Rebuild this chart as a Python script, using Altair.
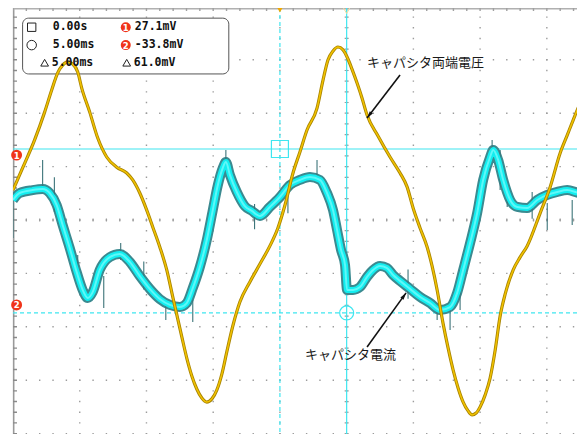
import altair as alt
import pandas as pd

# ---- data: time in ms (5 ms/div), level in mV (20 mV/div) ----
volt_t = [-20.0, -19.35, -18.38, -17.63, -17.1, -16.65, -16.28, -15.9, -15.53, -15.15, -14.85,
          -14.25, -13.65, -12.98, -12.23, -11.48, -11.03, -10.5, -9.98, -9.53, -9.0, -8.48,
          -8.03, -7.35, -6.98, -6.6, -6.23, -5.85, -5.48, -5.1, -4.73, -4.35, -3.98, -3.53,
          -3.0, -2.25, -1.5, -0.75, -0.15, 0.38, 0.98, 1.5, 2.03, 2.78, 3.23, 3.6, 3.98, 4.35,
          4.73, 5.1, 5.4, 5.78, 6.15, 6.53, 7.35, 8.25, 9.0, 9.53, 9.98, 10.5, 11.03, 11.4,
          11.78, 12.23, 12.6, 12.98, 13.35, 13.73, 14.1, 14.4, 14.7, 15.0, 15.38, 15.75, 16.13,
          16.5, 16.88, 17.48, 18.0, 18.53, 19.5, 20.25, 21.0, 21.53, 21.98, 22.5, 22.88]
volt_v = [11.2, 18.7, 30.0, 40.4, 48.7, 55.1, 58.0, 59.2, 58.4, 55.4, 49.4,
          40.4, 30.7, 23.6, 19.8, 17.6, 15.0, 10.1, 3.7, -2.6, -10.1, -18.7,
          -28.8, -43.8, -51.7, -58.4, -63.3, -66.7, -68.2, -67.0, -63.7, -57.7, -49.4, -39.7,
          -30.7, -23.2, -16.5, -9.7, -3.0, 5.6, 17.6, 25.5, 33.7, 41.9, 52.4, 59.9, 63.3, 64.8,
          63.7, 60.3, 56.5, 51.3, 45.7, 39.3, 31.5, 23.6, 17.6, 12.4, 4.5, -3.0, -10.1, -17.2,
          -26.2, -38.9, -47.9, -56.2, -62.9, -68.2, -71.5, -73.0, -72.3, -70.0, -65.5, -59.2, -48.7,
          -36.0, -27.7, -18.7, -13.9, -9.7, 2.6, 12.4, 25.1, 31.8, 37.5, 43.8, 47.6]

curr_t = [-20.0, -19.5, -18.53, -17.78, -17.25, -16.73, -16.28, -15.75, -15.23, -14.78, -14.4,
          -14.03, -13.5, -12.75, -12.0, -11.25, -10.5, -9.75, -9.0, -8.25, -7.5, -6.98, -6.53,
          -6.0, -5.48, -5.03, -4.65, -4.28, -4.05, -3.75, -3.23, -2.63, -2.1, -1.5, -0.75, 0.0,
          0.75, 1.5, 2.25, 3.0, 3.53, 3.98, 4.28, 4.58, 4.88, 5.03, 5.48, 6.0, 6.53, 6.98, 7.5,
          8.03, 8.48, 9.0, 9.75, 10.5, 11.25, 12.0, 12.75, 13.28, 13.73, 14.25, 14.78, 15.23,
          15.75, 15.98, 16.35, 16.73, 17.25, 17.78, 18.53, 19.28, 20.03, 20.78, 21.53, 22.5, 22.88]
curr_v = [7.5, 10.1, 11.2, 11.6, 10.1, 5.6, -1.9, -10.5, -19.5, -26.2, -29.2,
          -27.0, -18.7, -13.9, -12.7, -15.7, -21.0, -25.8, -29.6, -31.8, -32.6, -31.1, -25.5,
          -17.6, -7.5, 3.7, 13.1, 19.5, 21.7, 16.9, 10.5, 5.2, 3.4, 1.5, 4.9, 8.6,
          13.1, 15.0, 16.1, 15.0, 10.1, 3.7, -3.7, -11.2, -16.9, -26.2, -26.2, -25.1, -21.3, -18.7, -17.2,
          -18.0, -20.6, -22.8, -25.8, -28.8, -31.1, -33.7, -32.6, -27.3, -18.7, -8.6, 2.6, 15.0,
          23.6, 26.2, 22.5, 15.0, 7.5, 4.9, 4.5, 7.5, 9.4, 10.5, 11.2, 10.1, 11.2]

# noise spikes on the current trace
spike_t = [-20.0, -17.78, -15.15, -11.93, -8.55, -6.53, -4.05, 2.78, 11.78, 12.75, 13.5,
           15.9, 16.5, 17.03, 20.03, 21.9, -16.9, -13.2, -10.2, -1.9, 0.6, 9.6, 18.9]
spike_lo = [-6.7, 11.2, -20.6, -15.0, -37.5, -38.2, 20.6, 15.7, -37.5, -41.2, -33.7,
            22.5, 11.2, 4.9, -3.7, -1.9, 3.0, -33.0, -26.0, -3.5, 2.5, -29.5, 0.5]
spike_hi = [7.5, 22.5, -13.1, -8.6, -30.0, -30.0, 26.2, 22.5, -31.8, -33.7, -18.7,
            30.0, 26.2, 13.1, 6.4, 7.5, 16.0, -21.0, -15.5, 6.0, 14.5, -18.5, 10.5]

# screen / grid
X_DOMAIN = [-20.0, 22.26]
Y_DOMAIN = [-80.15, 79.40]
grid_t = [-15, -10, -5, 0, 5, 10, 15, 20]
grid_v = [-80, -60, -40, -20, 0, 20, 40, 60]

# cursors
cursor_solid_t = [5.0]
cursor_dash_t = [0.0]
cursor_solid_v = [26.6]
cursor_dash_v = [-34.8]

# readout
readout_text = ["0.00s", "5.00ms", "5.00ms", "27.1mV", "-33.8mV", "61.0mV"]
readout_t = [-17.02, -17.02, -17.1, -10.87, -10.87, -10.95]
readout_v = [72.2, 65.5, 58.7, 72.2, 65.5, 58.7]

# annotations
ann_text = ["キャパシタ両端電圧", "キャパシタ電流"]
ann_t = [6.53, 1.88]
ann_v = [58.8, -50.6]
arrow_t = [9.0, 6.53]
arrow_v = [54.3, -47.6]
arrow_t2 = [6.53, 9.45]
arrow_v2 = [38.2, -27.3]
arrow_angle = [217.5, 35.8]

xs = alt.Scale(domain=X_DOMAIN, nice=False, zero=False)
ys = alt.Scale(domain=Y_DOMAIN, nice=False, zero=False)


def X(f="t"):
    return alt.X(f"{f}:Q", scale=xs, axis=None)


def Y(f="v"):
    return alt.Y(f"{f}:Q", scale=ys, axis=None)


GRID = "#9c9c9c"
CUR = "#3fe6f0"

# dotted grid
vgrid = pd.DataFrame({"t": grid_t, "v": Y_DOMAIN[1], "v2": Y_DOMAIN[0]})
hgrid = pd.DataFrame({"v": grid_v, "t": X_DOMAIN[0], "t2": X_DOMAIN[1]})
vgrid_layer = alt.Chart(vgrid).mark_rule(color=GRID, strokeWidth=1.4, strokeDash=[1.4, 9.28],
                                         strokeDashOffset=2.3).encode(x=X(), y=Y(), y2=alt.Y2("v2:Q"))
hgrid_layer = alt.Chart(hgrid).mark_rule(color=GRID, strokeWidth=1.4, strokeDash=[1.4, 11.946],
                                         strokeDashOffset=0.7).encode(y=Y(), x=X(), x2=alt.X2("t2:Q"))
# center cross ticks
cvt = pd.DataFrame({"t": [5.0], "v": Y_DOMAIN[1], "v2": Y_DOMAIN[0]})
cht = pd.DataFrame({"v": [0.0], "t": X_DOMAIN[0], "t2": X_DOMAIN[1]})
cv_layer = alt.Chart(cvt).mark_rule(color=GRID, strokeWidth=4, strokeDash=[1.2, 9.48],
                                    strokeDashOffset=2.2).encode(x=X(), y=Y(), y2=alt.Y2("v2:Q"))
ch_layer = alt.Chart(cht).mark_rule(color=GRID, strokeWidth=3, strokeDash=[1.2, 12.146],
                                    strokeDashOffset=0.6).encode(y=Y(), x=X(), x2=alt.X2("t2:Q"))
# borders (left and top) with ticks
lb = pd.DataFrame({"t": [-19.95], "v": Y_DOMAIN[1], "v2": Y_DOMAIN[0]})
lbt = pd.DataFrame({"t": [-19.85], "v": Y_DOMAIN[1], "v2": Y_DOMAIN[0]})
tb = pd.DataFrame({"v": [79.15], "t": X_DOMAIN[0], "t2": X_DOMAIN[1]})
tbt = pd.DataFrame({"v": [78.85], "t": X_DOMAIN[0], "t2": X_DOMAIN[1]})
lb_layer = alt.Chart(lb).mark_rule(color="#9a9a9a", strokeWidth=1.6).encode(x=X(), y=Y(), y2=alt.Y2("v2:Q"))
lbt_layer = alt.Chart(lbt).mark_rule(color="#8a8a8a", strokeWidth=4, strokeDash=[1.4, 9.28],
                                     strokeDashOffset=2.3).encode(x=X(), y=Y(), y2=alt.Y2("v2:Q"))
tb_layer = alt.Chart(tb).mark_rule(color="#b0b0b0", strokeWidth=1.6).encode(y=Y(), x=X(), x2=alt.X2("t2:Q"))
tbt_layer = alt.Chart(tbt).mark_rule(color="#a0a0a0", strokeWidth=3, strokeDash=[1.4, 11.946],
                                     strokeDashOffset=0.7).encode(y=Y(), x=X(), x2=alt.X2("t2:Q"))

# cursors
c_sv = alt.Chart(pd.DataFrame({"t": cursor_solid_t, "v": Y_DOMAIN[1], "v2": Y_DOMAIN[0]})).mark_rule(
    color=CUR, strokeWidth=1.2).encode(x=X(), y=Y(), y2=alt.Y2("v2:Q"))
c_dv = alt.Chart(pd.DataFrame({"t": cursor_dash_t, "v": Y_DOMAIN[1], "v2": Y_DOMAIN[0]})).mark_rule(
    color=CUR, strokeWidth=1.2, strokeDash=[4, 3]).encode(x=X(), y=Y(), y2=alt.Y2("v2:Q"))
c_sh = alt.Chart(pd.DataFrame({"v": cursor_solid_v, "t": X_DOMAIN[0], "t2": X_DOMAIN[1]})).mark_rule(
    color=CUR, strokeWidth=1.2).encode(y=Y(), x=X(), x2=alt.X2("t2:Q"))
c_dh = alt.Chart(pd.DataFrame({"v": cursor_dash_v, "t": X_DOMAIN[0], "t2": X_DOMAIN[1]})).mark_rule(
    color=CUR, strokeWidth=1.2, strokeDash=[4, 3]).encode(y=Y(), x=X(), x2=alt.X2("t2:Q"))
c_sq = alt.Chart(pd.DataFrame({"t": cursor_dash_t, "v": cursor_solid_v})).mark_point(
    shape="square", size=289, color=CUR, strokeWidth=1.2, filled=False, opacity=1).encode(x=X(), y=Y())
c_ci = alt.Chart(pd.DataFrame({"t": cursor_solid_t, "v": cursor_dash_v})).mark_point(
    shape="circle", size=196, color=CUR, strokeWidth=1.2, filled=False, opacity=1).encode(x=X(), y=Y())

# trigger markers on top
trig = alt.Chart(pd.DataFrame({"t": cursor_dash_t, "v": [79.2]})).mark_point(
    shape="triangle-down", size=80, color="#f0a800", filled=True, opacity=1).encode(x=X(), y=Y())
trig2 = alt.Chart(pd.DataFrame({"t": cursor_solid_t, "v": [78.7]})).mark_point(
    shape="triangle-down", size=70, color="#f2dc9a", filled=False, strokeWidth=1, opacity=1).encode(x=X(), y=Y())

# readout box
box = alt.Chart(pd.DataFrame({"t": [-19.28], "t2": [-3.83], "v": [75.6], "v2": [54.7]})).mark_rect(
    fill="white", stroke="#555555", strokeWidth=1, cornerRadius=6).encode(
    x=X(), x2=alt.X2("t2:Q"), y=Y(), y2=alt.Y2("v2:Q"))

# traces
df_curr = pd.DataFrame({"t": curr_t, "v": curr_v})
df_volt = pd.DataFrame({"t": volt_t, "v": volt_v})
curr_outer = alt.Chart(df_curr).mark_line(color="#3b8a90", strokeWidth=10, interpolate="monotone",
                                          strokeJoin="round", clip=True).encode(x=X(), y=Y())
curr_inner = alt.Chart(df_curr).mark_line(color="#12eef0", strokeWidth=6, interpolate="monotone",
                                          strokeJoin="round", clip=True).encode(x=X(), y=Y())
curr_core = alt.Chart(df_curr).mark_line(color="#5ff8f8", strokeWidth=2, interpolate="monotone",
                                         strokeJoin="round", clip=True).encode(x=X(), y=Y())
spikes = alt.Chart(pd.DataFrame({"t": spike_t, "v": spike_lo, "v2": spike_hi})).mark_rule(
    color="#3c7479", strokeWidth=1.1, clip=True).encode(x=X(), y=Y(), y2=alt.Y2("v2:Q"))
volt_outer = alt.Chart(df_volt).mark_line(color="#a88400", strokeWidth=3.2, interpolate="monotone",
                                          clip=True).encode(x=X(), y=Y())
volt_inner = alt.Chart(df_volt).mark_line(color="#f2c200", strokeWidth=1.5, interpolate="monotone",
                                          clip=True).encode(x=X(), y=Y())

# readout contents
ro = alt.Chart(pd.DataFrame({"t": readout_t, "v": readout_v, "s": readout_text})).mark_text(
    align="left", baseline="middle", font="DejaVu Sans Mono", fontWeight="bold", fontSize=11.5,
    color="#111111").encode(x=X(), y=Y(), text="s:N")
ro_sq = alt.Chart(pd.DataFrame({"t": [-18.6], "v": [72.2]})).mark_point(
    shape="square", size=70, color="#222222", strokeWidth=1, filled=False, opacity=1).encode(x=X(), y=Y())
ro_ci = alt.Chart(pd.DataFrame({"t": [-18.6], "v": [65.5]})).mark_point(
    shape="circle", size=90, color="#222222", strokeWidth=1, filled=False, opacity=1).encode(x=X(), y=Y())
ro_tri = alt.Chart(pd.DataFrame({"t": [-17.63, -11.48], "v": [58.9, 58.9]})).mark_point(
    shape="triangle-up", size=60, color="#222222", strokeWidth=1, filled=False, opacity=1).encode(x=X(), y=Y())

# channel markers (red numbered dots)
marks = pd.DataFrame({"t": [-11.55, -11.55, -19.73, -19.73], "v": [72.2, 65.5, 24.3, -31.8],
                      "n": ["1", "2", "1", "2"], "sz": [100, 100, 120, 120]})
mk_dot = alt.Chart(marks).mark_point(shape="circle", color="#f0341a", filled=True, opacity=1).encode(
    x=X(), y=Y(), size=alt.Size("sz:Q", scale=None, legend=None))
mk_txt = alt.Chart(marks).mark_text(color="white", fontWeight="bold", fontSize=8.5, font="DejaVu Sans",
                                    baseline="middle", align="center", dy=0.5).encode(x=X(), y=Y(), text="n:N")

# annotations
ann = alt.Chart(pd.DataFrame({"t": ann_t, "v": ann_v, "s": ann_text})).mark_text(
    align="left", baseline="middle", font="Noto Sans CJK JP", fontSize=13, color="#1a1a1a").encode(
    x=X(), y=Y(), text="s:N")
arr = pd.DataFrame({"t": arrow_t, "v": arrow_v, "t2": arrow_t2, "v2": arrow_v2, "a": arrow_angle})
arr_line = alt.Chart(arr).mark_rule(color="#111111", strokeWidth=1.6).encode(
    x=X(), y=Y(), x2=alt.X2("t2:Q"), y2=alt.Y2("v2:Q"))
arr_head = alt.Chart(arr).mark_point(shape="M0,0L0.55,2L-0.55,2Z", size=49, color="#111111",
                                     filled=True, opacity=1).encode(
    x=alt.X("t2:Q", scale=xs, axis=None), y=alt.Y("v2:Q", scale=ys, axis=None),
    angle=alt.Angle("a:Q", scale=None))

chart = alt.layer(
    vgrid_layer, hgrid_layer, cv_layer, ch_layer, lb_layer, lbt_layer, tb_layer, tbt_layer,
    box, c_sv, c_dv, c_sh, c_dh, c_sq, c_ci,
    curr_outer, spikes, curr_inner, curr_core, volt_outer, volt_inner,
    ro, ro_sq, ro_ci, ro_tri, mk_dot, mk_txt, ann, arr_line, arr_head, trig, trig2
).properties(
    width=564, height=426,
    padding={"left": 5, "top": 0, "right": 0, "bottom": 0},
    autosize=alt.AutoSizeParams(type="none"),
    background="white",
).configure_view(stroke=None)

chart.save("out.html", embed_options={"renderer": "svg", "actions": False})
